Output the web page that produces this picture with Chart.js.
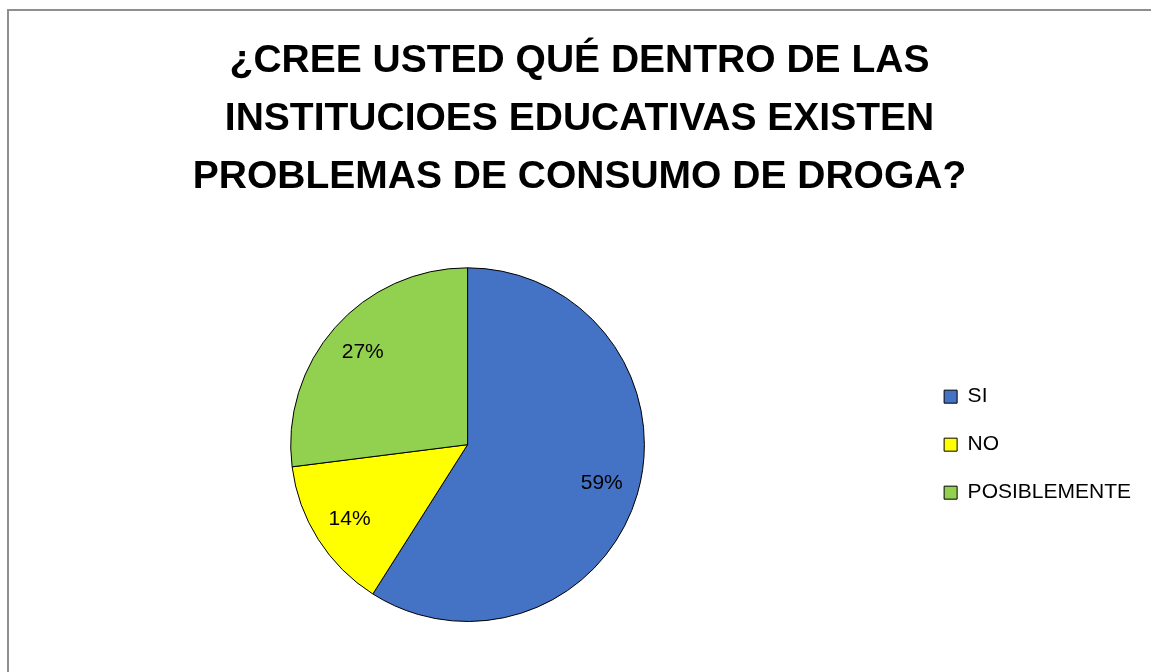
<!DOCTYPE html>
<html>
<head>
<meta charset="utf-8">
<script src="https://cdn.jsdelivr.net/npm/chart.js@4/dist/chart.umd.min.js"></script>
<style>
  html, body { margin: 0; padding: 0; background: #fff; }
  #wrap { position: relative; width: 1151px; height: 672px; overflow: hidden; }
  #frame { position: absolute; left: 7px; top: 9px; width: 1200px; height: 700px; border: 2px solid #8f8f8f; box-sizing: border-box; }
  canvas { position: absolute; left: 0; top: 0; }
</style>
</head>
<body>
<div id="wrap">
  <div id="frame"></div>
  <canvas id="chart" width="1151" height="672"></canvas>
</div>
<script>
const titleLines = ['¿CREE USTED QUÉ DENTRO DE LAS', 'INSTITUCIOES EDUCATIVAS EXISTEN', 'PROBLEMAS DE CONSUMO DE DROGA?'];
const categories = ['SI', 'NO', 'POSIBLEMENTE'];
const values = [59, 14, 27];
const colors = ['#4472C4', '#FFFF00', '#92D050'];

// percentage labels inside each slice
const sliceLabels = {
  id: 'sliceLabels',
  afterDatasetsDraw(chart) {
    const ctx = chart.ctx;
    const meta = chart.getDatasetMeta(0);
    const total = values.reduce((a, b) => a + b, 0);
    ctx.save();
    ctx.font = '21px "Liberation Sans", Arial, sans-serif';
    ctx.fillStyle = '#000';
    ctx.textAlign = 'center';
    ctx.textBaseline = 'middle';
    meta.data.forEach((arc, i) => {
      const mid = (arc.startAngle + arc.endAngle) / 2;
      const r = arc.outerRadius * 0.79;
      const x = arc.x + Math.cos(mid) * r;
      const y = arc.y + Math.sin(mid) * r;
      ctx.fillText(Math.round(values[i] / total * 100) + '%', x, y);
    });
    ctx.restore();
  }
};

new Chart(document.getElementById('chart'), {
  type: 'pie',
  data: {
    labels: categories,
    datasets: [{
      data: values,
      backgroundColor: colors,
      borderColor: '#000',
      borderWidth: 1
    }]
  },
  options: {
    responsive: false,
    animation: false,
    layout: { padding: { left: 18, right: 10, top: 0, bottom: 50 } },
    plugins: {
      title: {
        display: true,
        text: titleLines,
        color: '#000',
        font: { family: '"Liberation Sans", Arial, sans-serif', size: 39, weight: 'bold', lineHeight: 1.49 },
        padding: { top: 32, bottom: 61 }
      },
      legend: {
        position: 'right',
        fullSize: false,
        labels: {
          color: '#000',
          font: { family: '"Liberation Sans", Arial, sans-serif', size: 21 },
          boxWidth: 13,
          boxHeight: 13,
          padding: 27
        }
      },
      tooltip: { enabled: false }
    }
  },
  plugins: [sliceLabels]
});
</script>
</body>
</html>
